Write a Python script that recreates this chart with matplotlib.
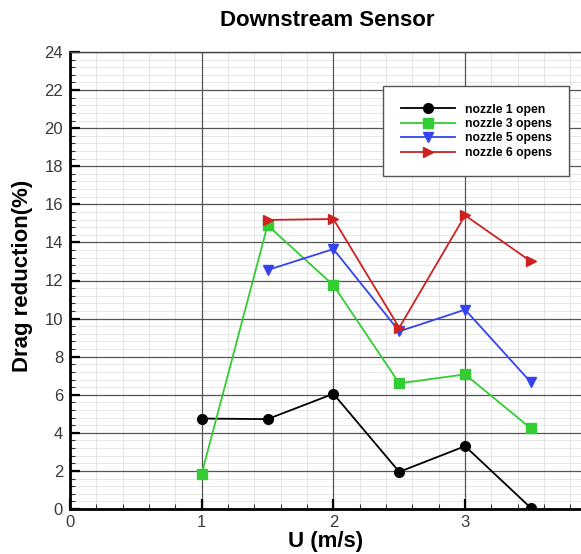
import matplotlib
matplotlib.use("Agg")
import matplotlib.pyplot as plt
import numpy as np
from matplotlib.ticker import FixedLocator

plt.rcParams['font.family'] = ['Liberation Sans', 'DejaVu Sans']

# Data
u_n1 = [1.0, 1.5, 2.0, 2.5, 3.0, 3.5]
dr_n1 = [4.75, 4.72, 6.05, 1.95, 3.3, 0.05]

u_n3 = [1.0, 1.5, 2.0, 2.5, 3.0, 3.5]
dr_n3 = [1.85, 14.9, 11.75, 6.6, 7.07, 4.23]

u_n5 = [1.5, 2.0, 2.5, 3.0, 3.5]
dr_n5 = [12.55, 13.65, 9.33, 10.47, 6.65]

u_n6 = [1.5, 2.0, 2.5, 3.0, 3.5]
dr_n6 = [15.18, 15.23, 9.52, 15.42, 13.0]

labels = ["nozzle 1 open", "nozzle 3 opens", "nozzle 5 opens", "nozzle 6 opens"]
x_ticks = [0, 1, 2, 3]
y_ticks = list(range(0, 25, 2))

fig = plt.figure(figsize=(5.81, 5.54), dpi=100)
ax = fig.add_axes([70 / 581, 45 / 554, 1 - 70 / 581, (509 - 52) / 554])

ax.plot(u_n1, dr_n1, color='black', marker='o', markersize=7, lw=1.3, label=labels[0], zorder=5)
ax.plot(u_n3, dr_n3, color='#33cc33', marker='s', markersize=6.5, lw=1.3, label=labels[1], zorder=5)
ax.plot(u_n5, dr_n5, color='#3344ee', marker='v', markersize=7, lw=1.3, label=labels[2], zorder=5)
ax.plot(u_n6, dr_n6, color='#cc2222', marker='>', markersize=7, lw=1.3, label=labels[3], zorder=5)

xmax = 511 / 131.7
ax.set_xlim(0, xmax)
ax.set_ylim(0, 24)
ax.set_xticks(x_ticks)
ax.set_yticks(y_ticks)
xminor = [round(v, 2) for v in np.arange(0, 4.0, 0.2) if abs(v - round(v)) > 1e-6]
yminor = [round(v, 2) for v in np.arange(0, 24.01, 0.4) if abs(v / 2 - round(v / 2)) > 1e-6]
ax.xaxis.set_minor_locator(FixedLocator(xminor))
ax.yaxis.set_minor_locator(FixedLocator(yminor))

# minor grid behind, major grid above it
ax.vlines(xminor, 0, 24, colors='#e2e2e2', lw=0.6, zorder=0.1)
ax.hlines(yminor, 0, xmax, colors='#e2e2e2', lw=0.6, zorder=0.1)
ax.grid(which='major', color='#555555', lw=0.9)
ax.set_axisbelow(True)

ax.tick_params(which='major', direction='in', length=7, width=1.6, colors='black',
               labelsize=12, labelcolor='#3a3a3a', pad=5)
ax.tick_params(which='minor', direction='in', length=3.8, width=0.8, colors='#333333')
ax.tick_params(axis='x', pad=4)

for s in ['left', 'bottom']:
    ax.spines[s].set_linewidth(2.0)
ax.spines['top'].set_linewidth(1.0)
ax.spines['top'].set_color('#444444')
ax.spines['right'].set_visible(False)

ax.set_xlabel('U (m/s)', fontsize=16, fontweight='bold', labelpad=1)
ax.set_ylabel('Drag reduction(%)', fontsize=16, fontweight='bold', labelpad=8)
ax.yaxis.label.set_y(0.51)
fig.text(327 / 581, 1 - 21 / 554, 'Downstream Sensor', fontsize=16, fontweight='bold',
         ha='center', va='center')

leg = ax.legend(loc='upper left', bbox_to_anchor=((383 - 70) / 511, (509 - 86) / 457),
                prop={'weight': 'bold', 'size': 8.7}, handlelength=4.5, handletextpad=0.8,
                labelspacing=0.2, borderpad=1.45, fancybox=False, framealpha=1,
                edgecolor='#555555', borderaxespad=0)
leg.get_frame().set_linewidth(1.0)

fig.savefig('out.png', dpi=100)
